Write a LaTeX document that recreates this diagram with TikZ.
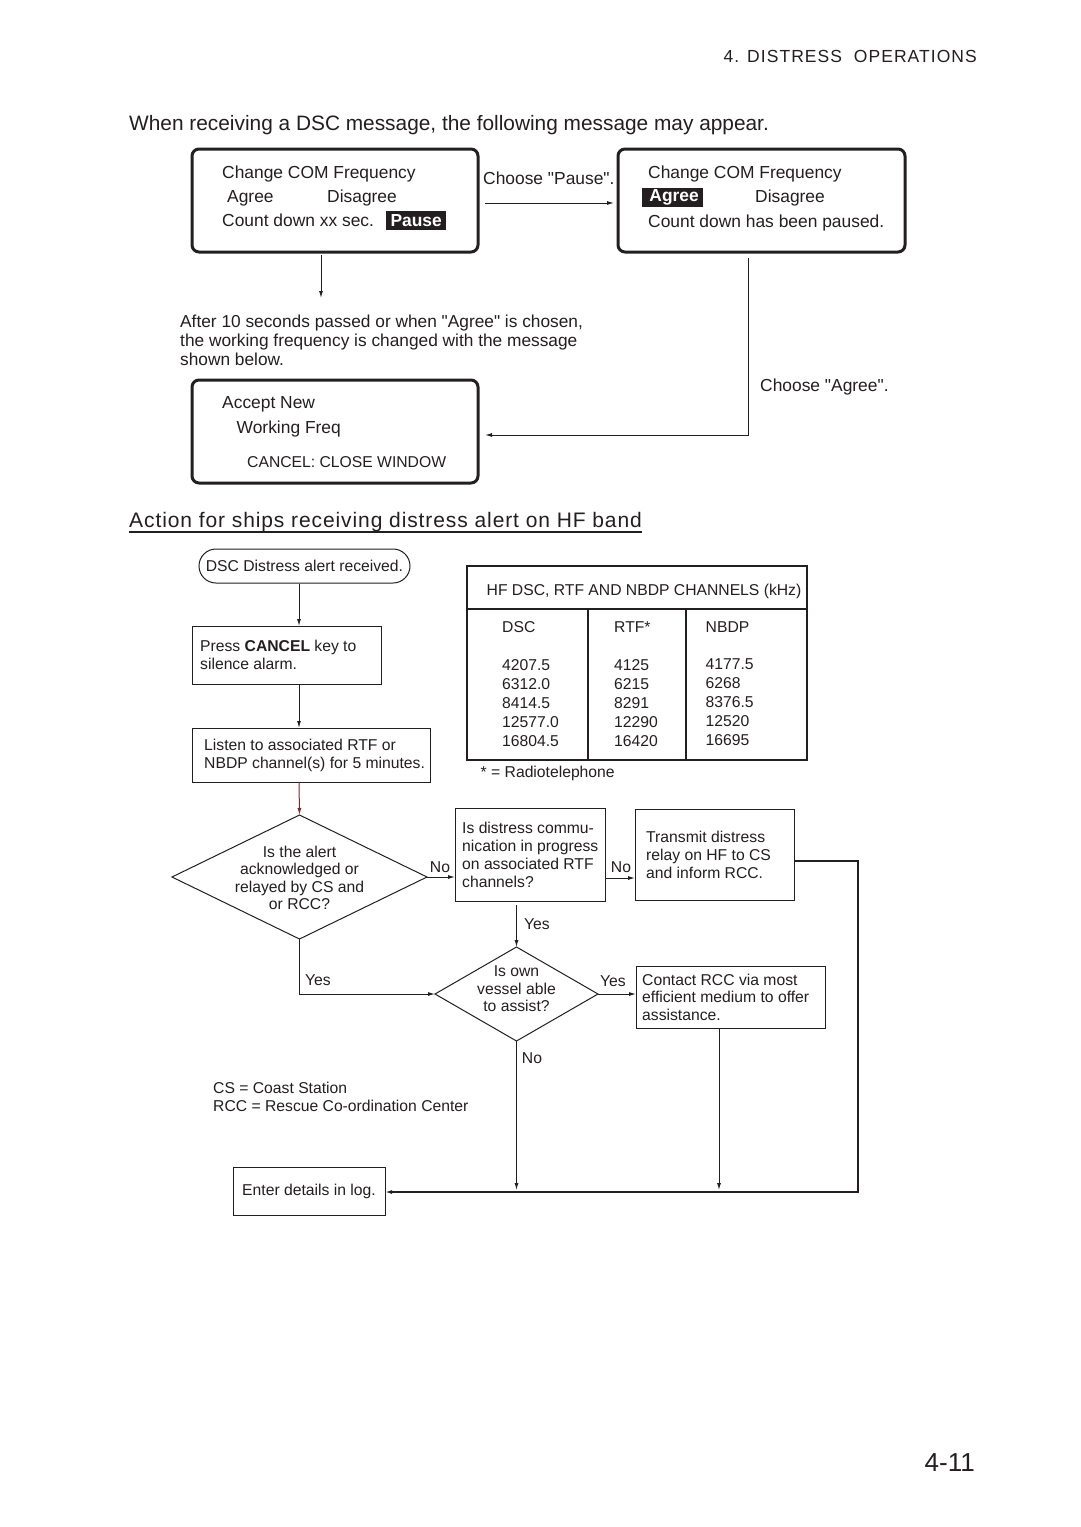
\documentclass[tikz,border=0pt]{standalone}
\usepackage{fontspec}
\setmainfont{Liberation Sans}[Ligatures=TeXOff]
\usetikzlibrary{arrows.meta,shapes.geometric}
\definecolor{ink}{RGB}{35,31,32}
\definecolor{redink}{RGB}{120,45,40}
\newcommand\fsDisp{\fontsize{17.4}{24}\selectfont}
\newcommand\fsFlow{\fontsize{15.7}{18}\selectfont}
\newcommand\fsTab{\fontsize{15.7}{19}\selectfont}
\begin{document}
\begin{tikzpicture}[x=1pt,y=-1pt,
  every node/.style={text=ink},
  disp/.style={draw=ink, line width=3pt, rounded corners=7pt, inner sep=0, outer sep=0, anchor=north west},
  dtxt/.style={inner sep=0, anchor=base west, font=\fsDisp},
  ftxt/.style={inner sep=0, font=\fsFlow, align=left},
  ctxt/.style={inner sep=0, font=\fsFlow, align=center},
  lbl/.style={inner sep=0, anchor=base, font=\fsFlow},
  fbox/.style={draw=ink, line width=1pt, inner sep=0, outer sep=0, anchor=north west},
  dia/.style={draw=ink, line width=1pt, diamond, inner sep=0, outer sep=0},
  tipo/.style={-{Latex[length=7pt,width=4pt]}},
  arr/.style={draw=ink, line width=1pt, tipo},
  tline/.style={draw=ink, line width=1.6pt}
]
\useasboundingbox (0,0) rectangle (1080,1527);
\fill[white] (0,0) rectangle (1080,1527);

% header
\node[inner sep=0, anchor=base east, font=\fontsize{17.5}{20}\selectfont\addfontfeature{LetterSpace=6}] (hdr) at (977,62) {4. DISTRESS\ \ OPERATIONS};
\node[inner sep=0, anchor=base west, font=\fontsize{20.85}{24}\selectfont] (intro) at (129,130.5) {When receiving a DSC message, the following message may appear.};

% display boxes
\node[disp, minimum width=286, minimum height=103] (d1) at (192,149) {};
\node[disp, minimum width=287, minimum height=103] (d2) at (618,149) {};
\node[disp, minimum width=286, minimum height=103] (d3) at (192,380) {};

\node[dtxt] (d1a) at (222,178) {Change COM Frequency};
\node[dtxt] (d1b) at (227,202) {Agree};
\node[dtxt] (d1c) at (327,202) {Disagree};
\node[dtxt] (d1d) at (222,226) {Count down xx sec.};
\node[fill=ink, inner sep=0, minimum width=60, minimum height=19, anchor=north west, text=white, font=\fsDisp\bfseries] (pause) at (386,211) {Pause};

\node[dtxt] (d2a) at (648,178) {Change COM Frequency};
\node[fill=ink, inner sep=0, minimum width=61, minimum height=19, anchor=north west, text=white, font=\fsDisp\bfseries] (agree) at (642,188) {\,Agree};
\node[dtxt] (d2c) at (755,202) {Disagree};
\node[dtxt] (d2d) at (648,227) {Count down has been paused.};

\node[dtxt] (d3a) at (222,408.5) {Accept New};
\node[dtxt] (d3b) at (236.5,433.5) {Working Freq};
\node[inner sep=0, anchor=base west, font=\fontsize{15.7}{18}\selectfont] (d3c) at (247,467) {CANCEL: CLOSE WINDOW};

\node[dtxt] (cp) at (483,184) {Choose "Pause".};
\coordinate (pA) at (486,203);
\draw[arr, shorten <=7pt, shorten >=4pt] (d1.east |- pA) -- (d2.west |- pA);

\coordinate (dn) at (321,298);
\draw[arr, shorten <=3pt] (d1.south -| dn) -- (dn);

\node[inner sep=0, anchor=north west, align=left, font=\fontsize{17.3}{19}\selectfont] (after) at (180,314.8)
  {After 10 seconds passed or when "Agree" is chosen,\\the working frequency is changed with the message\\shown below.};

\coordinate (cA) at (748,435);
\draw[arr, shorten <=6pt, shorten >=7pt] (d2.south -| cA) -- (cA) -- (d3.east |- cA);
\node[dtxt] (ca) at (760,391) {Choose "Agree".};

% section title
\node[inner sep=0, anchor=base west, font=\fontsize{21}{24}\selectfont\addfontfeature{LetterSpace=4.3}] (title) at (129,527) {Action for ships receiving distress alert on HF band};
\draw[ink, line width=1.5pt] ([yshift=-5pt]title.base west) -- ([yshift=-5pt]title.base east);

% flowchart
\coordinate (cx) at (299,0);
\node[draw=ink, line width=1pt, rounded corners=17pt, minimum width=211, minimum height=34, inner sep=0, font=\fsFlow] (t0) at (304.5,566) {DSC Distress alert received.};
\node[fbox, minimum width=189, minimum height=58] (b1) at (192,626) {};
\node[ftxt, anchor=west] (b1t) at ([xshift=8pt]b1.west) {Press \textbf{CANCEL} key to\\silence alarm.};
\node[fbox, minimum width=238, minimum height=54] (b2) at (192,728) {};
\node[ftxt, anchor=west] (b2t) at ([xshift=12pt]b2.west) {Listen to associated RTF or\\NBDP channel(s) for 5 minutes.};

\draw[arr] (t0.south -| cx) -- (b1.north -| cx);
\draw[arr] (b1.south -| cx) -- (b2.north -| cx);

\node[dia, minimum width=255, minimum height=124] (q1) at (299.5,877) {};
\node[ctxt, font=\fontsize{15.7}{17.4}\selectfont] (q1t) at ([yshift=-1pt]q1.center) {Is the alert\\acknowledged or\\relayed by CS and\\or RCC?};
\draw[draw=redink, line width=1pt, tipo] (b2.south -| cx) -- (q1.north);

\node[fbox, minimum width=150, minimum height=93] (q2) at (455,808) {};
\node[ftxt, anchor=west] (q2t) at ([xshift=7pt]q2.west) {Is distress commu-\\nication in progress\\on associated RTF\\channels?};
\node[fbox, minimum width=159, minimum height=91] (tx) at (635,809) {};
\node[ftxt, anchor=west] (txt) at ([xshift=11pt]tx.west) {Transmit distress\\relay on HF to CS\\and inform RCC.};

\draw[arr] (q1.east) -- (q2.west |- q1.east);
\node[lbl] (n1) at (440,872) {No};
\coordinate (r1) at (605,878);
\draw[arr] (q2.east |- r1) -- (tx.west |- r1);
\node[lbl] (n2) at (621,872) {No};

\node[dia, minimum width=163, minimum height=94] (q3) at (516.5,994) {};
\node[ctxt, font=\fontsize{15.7}{17.5}\selectfont] (q3t) at ([yshift=5pt]q3.center) {Is own\\vessel able\\to assist?};
\draw[arr, shorten <=4pt] (q2.south -| q3.north) -- (q3.north);
\node[lbl] (y1) at (537,929) {Yes};
\draw[arr] (q1.south) -- (q1.south |- q3.west) -- (q3.west);
\node[lbl] (y2) at (318,985) {Yes};

\node[fbox, minimum width=189, minimum height=62] (ct) at (636,966) {};
\node[ftxt, anchor=west, font=\fontsize{15.7}{17.5}\selectfont] (ctt) at ([xshift=6pt]ct.west) {Contact RCC via most\\efficient medium to offer\\assistance.};
\draw[arr] (q3.east) -- (ct.west |- q3.east);
\node[lbl] (y3) at (613,986) {Yes};

\node[fbox, minimum width=152, minimum height=48] (lg) at (233,1167) {};
\node[ctxt] (lgt) at (lg.center) {Enter details in log.};

\coordinate (rt) at (858,861);
\coordinate (rb) at (858,1192);
\draw[draw=ink, line width=2pt, tipo] (tx.east |- rt) -- (rt) -- (rb) -- (lg.east |- rb);
\coordinate (c3) at (719,1190);
\draw[arr] (ct.south -| c3) -- (c3);
\draw[arr] (q3.south) -- (q3.south |- c3);
\node[lbl] (n3) at (532,1063) {No};

\node[ftxt, anchor=north west] (legend) at (213,1081.5) {CS = Coast Station\\RCC = Rescue Co-ordination Center};

% table
\node[draw=ink, line width=1.6pt, minimum width=340, minimum height=194, inner sep=0, outer sep=0, anchor=north west] (tbl) at (467,566) {};
\draw[tline] ([yshift=-43pt]tbl.north west) -- ([yshift=-43pt]tbl.north east);
\draw[tline] ([xshift=121pt,yshift=-43pt]tbl.north west) -- ([xshift=121pt]tbl.south west);
\draw[tline] ([xshift=219pt,yshift=-43pt]tbl.north west) -- ([xshift=219pt]tbl.south west);
\node[inner sep=0, anchor=base west, font=\fsTab] (th) at (486.5,595) {HF DSC, RTF AND NBDP CHANNELS (kHz)};
\node[inner sep=0, anchor=base west, font=\fsTab] (h1) at (502,632) {DSC};
\node[inner sep=0, anchor=base west, font=\fsTab] (h2) at (614,632) {RTF*};
\node[inner sep=0, anchor=base west, font=\fsTab] (h3) at (705.5,632) {NBDP};
\node[inner sep=0, anchor=north west, align=left, font=\fsTab] (c1) at (502,658.9) {4207.5\\6312.0\\8414.5\\12577.0\\16804.5};
\node[inner sep=0, anchor=north west, align=left, font=\fsTab] (c2) at (614,658.9) {4125\\6215\\8291\\12290\\16420};
\node[inner sep=0, anchor=north west, align=left, font=\fsTab] (c3t) at (705.5,658.9) {4177.5\\6268\\8376.5\\12520\\16695};
\node[inner sep=0, anchor=base west, font=\fsTab] (fn) at (480.5,777) {* = Radiotelephone};

% page number
\node[inner sep=0, anchor=base east, font=\fontsize{26}{30}\selectfont] (pg) at (975,1471) {4-11};
\end{tikzpicture}
\end{document}
